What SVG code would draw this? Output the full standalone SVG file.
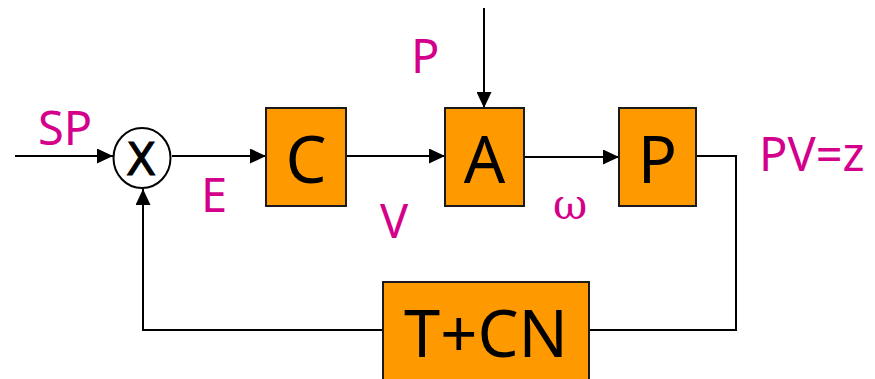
<svg xmlns="http://www.w3.org/2000/svg" width="875" height="379" viewBox="0 0 875 379">
<style>
.box{fill:#FF9900;stroke:#1a1a1a;stroke-width:2}
.bt{font-family:"Noto Sans","DejaVu Sans",sans-serif;font-size:65px;fill:#000;text-anchor:middle}
.lbl{font-family:"Noto Sans","DejaVu Sans",sans-serif;font-size:47px;fill:#D4008C}
.sx{font-family:"DejaVu Sans","Noto Sans",sans-serif;font-size:44px;fill:#000;text-anchor:middle}
.om{font-family:"DejaVu Serif","Liberation Serif",serif;font-size:42px;fill:#D4008C;text-anchor:middle}
.ln{fill:none;stroke:#000;stroke-width:2}
</style>
<defs>
<marker id="ah" markerWidth="16" markerHeight="15" refX="16" refY="7.5" orient="auto" markerUnits="userSpaceOnUse">
<path d="M0,0 L16,7.5 L0,15 Z" fill="#000"/>
</marker>
</defs>
<g id="connectors">
<line class="ln" x1="15" y1="156" x2="113" y2="156" marker-end="url(#ah)"/>
<line class="ln" x1="172" y1="156" x2="266" y2="156" marker-end="url(#ah)"/>
<line class="ln" x1="346" y1="156" x2="445" y2="156" marker-end="url(#ah)"/>
<line class="ln" x1="484" y1="8" x2="484" y2="108" marker-end="url(#ah)"/>
<line class="ln" x1="524" y1="157" x2="619" y2="157" marker-end="url(#ah)"/>
<polyline class="ln" points="696,156 736,156 736,330 589,330"/>
<polyline class="ln" points="383,330 143,330 143,189" marker-end="url(#ah)"/>
</g>
<g id="sum">
<ellipse cx="142" cy="158" rx="28.5" ry="30" fill="#fff" stroke="#000" stroke-width="2"/>
<text class="sx" x="141" y="175" stroke="#000" stroke-width="1">X</text>
</g>
<g id="C"><rect class="box" x="266" y="108" width="80" height="98"/><text class="bt" x="306" y="183">C</text></g>
<g id="A"><rect class="box" x="445" y="108" width="79" height="98"/><text class="bt" x="484.5" y="183">A</text></g>
<g id="P"><rect class="box" x="619" y="108" width="77" height="98"/><text class="bt" x="657.5" y="183">P</text></g>
<g id="TCN"><rect class="box" x="383" y="282" width="206" height="100"/><text class="bt" x="486" y="357">T+CN</text></g>
<g id="labels">
<text class="lbl" x="38" y="145">SP</text>
<text class="lbl" x="201" y="212">E</text>
<text class="lbl" x="411" y="73">P</text>
<text class="lbl" x="380" y="238">V</text>
<text class="om" x="570" y="219">ω</text>
<text class="lbl" x="759" y="171">PV=z</text>
</g>
</svg>
